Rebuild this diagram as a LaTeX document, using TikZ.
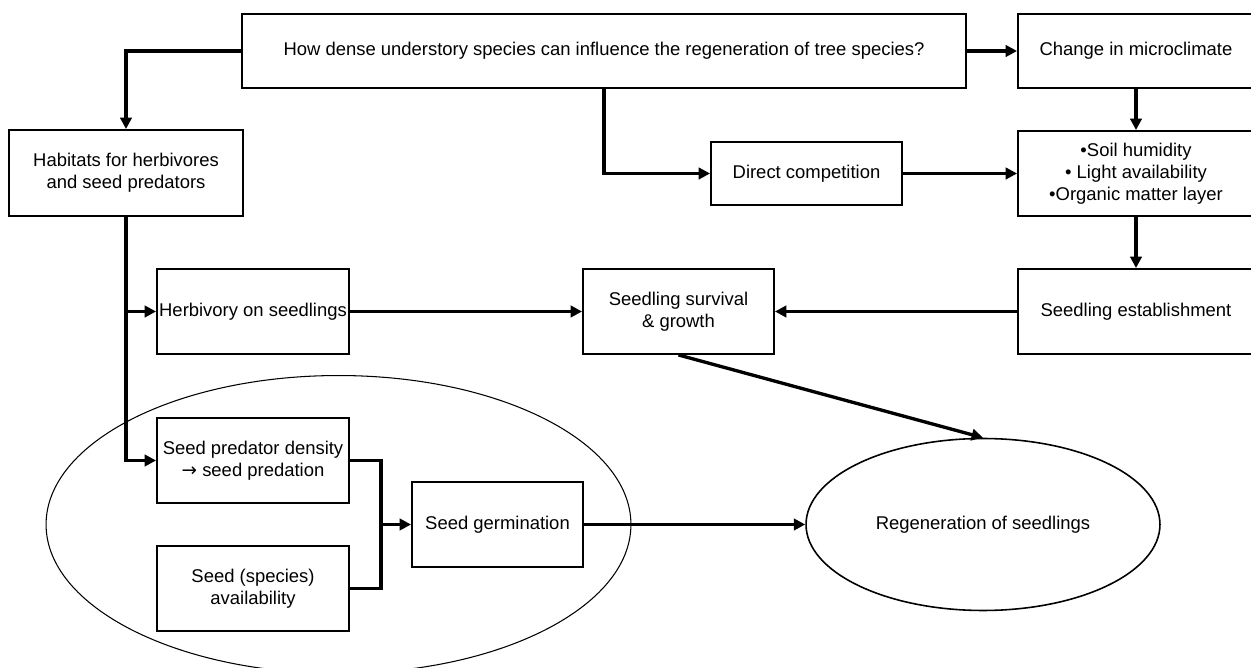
\documentclass[tikz,border=0pt]{standalone}
\usepackage{fontspec}
\setmainfont{Liberation Sans}
\newfontfamily\symbolfont{DejaVu Sans}
\usetikzlibrary{positioning, arrows.meta, shapes.geometric}

\begin{document}
\begin{tikzpicture}
[
    x=0.02cm, y=-0.02cm, node distance=1cm,
    >={Triangle[length=6.5pt, width=6.5pt]},
    font=\fontsize{10.5}{12.5}\selectfont,
    % Positions are given in pixels of the figure, y grows downwards
    % Node names: Q = question, left column HB/HV/SP/SA, right column CM/SH/SE
]

%=================================== Start ===================================
\tikzstyle{box}  = [draw, fill=white, line width=1.1pt, align=center, inner sep=1pt,
                    minimum width=3.84cm, minimum height=1.7cm]
\tikzstyle{wide} = [box, minimum width=4.72cm]
\tikzstyle{oval} = [draw, ellipse, inner sep=0pt]
\tikzstyle{link} = [->, line width=1.9pt]

\useasboundingbox (0,0) rectangle (1251,668);

% The two ovals (drawn first, the boxes sit on top)
\node[oval, line width=0.6pt, minimum width=11.7cm, minimum height=5.96cm]
      (seeds) at (338.5,524.5) {};
\node[oval, line width=0.9pt, minimum width=7.08cm, minimum height=3.44cm]
      (regen) at (983,524.5) {Regeneration of seedlings};

% The question on top
\node[box, minimum width=14.48cm, minimum height=1.48cm] (Q) at (604,51)
      {How dense understory species can influence the regeneration of tree species?};

% Right column
\node[wide, minimum height=1.48cm] (CM) at (1136,51) {Change in microclimate};
\node[wide] (SH) at (1136,173.5) {•Soil humidity\\ • Light availability\\ •Organic matter layer};
\node[wide] (SE) at (1136,311.5) {Seedling establishment};

% Left column
\node[box, minimum width=4.68cm, minimum height=1.72cm] (HB) at (126,173)
      {Habitats for herbivores\\ and seed predators};
\foreach \n / \y / \t in {HV/311.5/{Herbivory on seedlings},
                          SP/460.5/{Seed predator density\\ {\symbolfont →} seed predation},
                          SA/588.5/{Seed (species)\\ availability}}
    \node[box] (\n) at (253,\y) {\t};

% Middle
\node[box, minimum width=3.82cm, minimum height=1.26cm] (DC) at (806.5,173.5) {Direct competition};
\node[box, minimum width=3.82cm] (SV) at (678.5,311.5) {Seedling survival\\ \& growth};
\node[box, minimum width=3.42cm] (SG) at (497.5,524.5) {Seed germination};

% Connect nodes
\draw[link] (Q.west) -| (HB.north);
\draw[link] (Q.east) -- (CM.west);
\draw[link] (Q.south) |- (DC.west);
\draw[link] (DC.east) -- (SH.west);
\draw[link] (CM.south) -- (SH.north);
\draw[link] (SH.south) -- (SE.north);
\draw[link] (SE.west) -- (SV.east);
\draw[link] (HV.east) -- (SV.west);
\draw[link] (SV.south) -- (regen.north);
\draw[link] (SG.east) -- (regen.west);
\draw[link] (HB.south) |- (SP.west);
\draw[link] (HB.south |- HV.west) -- (HV.west);

% Join of the two seed boxes
\coordinate (J) at (381,524.5);
\draw[line width=1.9pt] (SP.east) -| (J) |- (SA.east);
\draw[link] (J) -- (SG.west);
%==================================== END ====================================

\end{tikzpicture}
\end{document}
